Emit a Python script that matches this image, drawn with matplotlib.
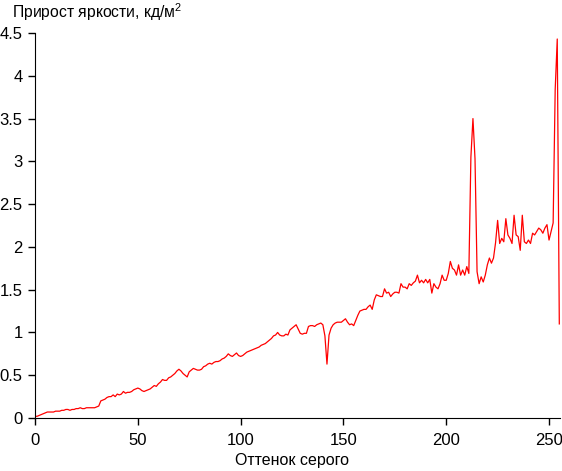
import numpy as np
import matplotlib
matplotlib.use("Agg")
import matplotlib.pyplot as plt

plt.rcParams["font.family"] = ["Liberation Sans", "DejaVu Sans"]
plt.rcParams["mathtext.fontset"] = "custom"
plt.rcParams["mathtext.rm"] = "Liberation Sans"
plt.rcParams["mathtext.it"] = "Liberation Sans"

# brightness increment per gray level (0..255)
increments = [
    0.02, 0.02, 0.03, 0.04, 0.05, 0.06, 0.07, 0.07, 0.07, 0.07,
    0.08, 0.08, 0.08, 0.09, 0.09, 0.10, 0.10, 0.09, 0.10, 0.10,
    0.11, 0.11, 0.12, 0.11, 0.11, 0.12, 0.12, 0.12, 0.12, 0.12,
    0.13, 0.14, 0.20, 0.21, 0.22, 0.24, 0.25, 0.25, 0.27, 0.25,
    0.28, 0.27, 0.28, 0.31, 0.29, 0.30, 0.30, 0.31, 0.33, 0.34,
    0.35, 0.34, 0.32, 0.31, 0.32, 0.33, 0.34, 0.36, 0.38, 0.37,
    0.40, 0.42, 0.45, 0.44, 0.44, 0.47, 0.48, 0.50, 0.52, 0.55,
    0.57, 0.55, 0.52, 0.50, 0.48, 0.54, 0.56, 0.58, 0.57, 0.56,
    0.56, 0.57, 0.60, 0.61, 0.63, 0.64, 0.63, 0.65, 0.66, 0.66,
    0.67, 0.69, 0.70, 0.72, 0.75, 0.73, 0.72, 0.74, 0.76, 0.73,
    0.72, 0.73, 0.75, 0.77, 0.78, 0.79, 0.80, 0.81, 0.82, 0.83,
    0.85, 0.86, 0.87, 0.89, 0.91, 0.93, 0.96, 0.97, 1.00, 0.97,
    0.96, 0.96, 0.98, 0.97, 1.03, 1.05, 1.07, 1.09, 1.04, 0.99,
    0.98, 0.99, 0.99, 1.07, 1.08, 1.08, 1.07, 1.09, 1.10, 1.11,
    1.09, 0.96, 0.63, 0.97, 1.05, 1.09, 1.11, 1.12, 1.12, 1.12,
    1.14, 1.16, 1.12, 1.09, 1.10, 1.08, 1.14, 1.20, 1.25, 1.26,
    1.27, 1.27, 1.30, 1.32, 1.27, 1.38, 1.44, 1.43, 1.42, 1.42,
    1.51, 1.46, 1.47, 1.42, 1.45, 1.47, 1.47, 1.46, 1.57, 1.53,
    1.53, 1.51, 1.57, 1.55, 1.58, 1.60, 1.67, 1.58, 1.61, 1.58,
    1.62, 1.58, 1.62, 1.46, 1.57, 1.53, 1.51, 1.57, 1.67, 1.61,
    1.61, 1.69, 1.83, 1.75, 1.73, 1.67, 1.79, 1.67, 1.73, 1.67,
    1.77, 1.69, 3.05, 3.50, 3.03, 1.71, 1.57, 1.65, 1.59, 1.67,
    1.79, 1.87, 1.81, 1.87, 2.05, 2.31, 2.04, 2.10, 2.06, 2.33,
    2.14, 2.10, 2.04, 2.37, 2.14, 2.12, 1.96, 2.37, 2.06, 2.04,
    2.08, 2.04, 2.16, 2.14, 2.18, 2.22, 2.20, 2.16, 2.22, 2.26,
    2.08, 2.18, 2.28, 3.84, 4.43, 1.10,
]
gray = np.arange(len(increments))

x_ticks = [0, 50, 100, 150, 200, 250]
y_ticks = [0, 0.5, 1, 1.5, 2, 2.5, 3, 3.5, 4, 4.5]
y_labels = ["0", "0.5", "1", "1.5", "2", "2.5", "3", "3.5", "4", "4.5"]

fig = plt.figure(figsize=(5.62, 4.71), dpi=100)
ax = fig.add_axes([0.0623, 0.1125, 0.934, 0.8174])

ax.plot(gray, increments, color="red", linewidth=0.9)

ax.set_xlim(0, 255.3)
ax.set_ylim(0, 4.5)
ax.set_xticks(x_ticks)
ax.set_yticks(y_ticks)
ax.set_yticklabels(y_labels)
ax.tick_params(direction="out", length=5, width=1, labelsize=12, colors="black", pad=4)
ax.tick_params(axis="x", pad=6)
ax.spines["top"].set_visible(False)
ax.spines["right"].set_visible(False)
ax.set_xlabel("Оттенок серого", fontsize=11.5, labelpad=3)
ax.xaxis.set_label_coords(0.49, -0.09)

fig.text(0.021, 0.975, "Прирост яркости, кд/м$^2$", fontsize=11.3, ha="left", va="center")

fig.savefig("out.png", dpi=100)
